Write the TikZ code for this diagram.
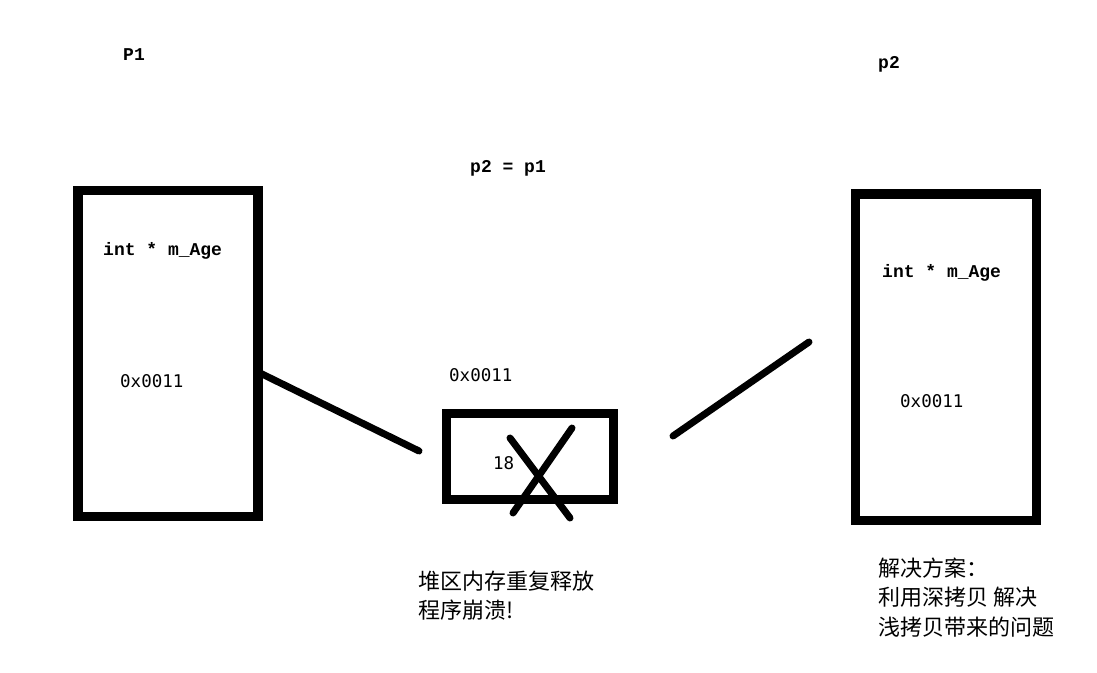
\documentclass[tikz,border=0pt]{standalone}
\usepackage{fontspec}
\newfontfamily\cjk{Noto Sans CJK SC}
\newfontfamily\monoserif{Liberation Mono}
\newfontfamily\monosans{DejaVu Sans Mono}
\begin{document}
\begin{tikzpicture}[x=1pt,y=-1pt,
  membox/.style={draw=black,line width=9.5pt,rectangle,inner sep=0pt},
  lbl/.style={inner sep=0pt,anchor=base west,font=\monoserif\bfseries\fontsize{18}{20}\selectfont},
  addr/.style={inner sep=0pt,anchor=base west,font=\monosans\fontsize{17.5}{20}\selectfont},
  note/.style={inner sep=0pt,anchor=west,align=left,font=\cjk\fontsize{22}{29.5}\selectfont},
  wire/.style={line width=7pt,line cap=round},
  cross/.style={line width=7pt,line cap=round}]
\useasboundingbox (0,0) rectangle (1097,672);
\fill[white] (0,0) rectangle (1097,672);

% memory boxes
\node[membox,minimum width=180pt,minimum height=326pt] (p1box) at (168,353.5) {};
\node[membox,minimum width=181pt,minimum height=326.5pt] (p2box) at (946,357.25) {};
\node[membox,minimum width=167pt,minimum height=86pt] (heap) at (530,456.5) {};

% labels
\node[lbl] (p1lbl) at (123,60) {P1};
\node[lbl] (p2lbl) at (878,68) {p2};
\node[lbl] (assign) at (470,172) {p2 = p1};
\node[lbl] (ageL) at (103,255) {int * m\_Age};
\node[lbl] (ageR) at (882,277) {int * m\_Age};
\node[addr] (addrL) at (120,387) {0x0011};
\node[addr] (addrR) at (900,407) {0x0011};
\node[addr] (addrM) at (449,381) {0x0011};
\node[addr] (val) at (493,469) {18};

% notes
\node[note] (crash) at (418,595.5) {堆区内存重复释放\\程序崩溃!};
\node[note] (fix) at (878,597.5) {解决方案：\\利用深拷贝 解决\\浅拷贝带来的问题};

% connectors
\coordinate (w1a) at (260,373);
\coordinate (w1b) at (419,451);
\coordinate (w2a) at (673,436);
\coordinate (w2b) at (809,342);
\draw[wire] (w1a) -- (w1b);
\draw[wire] (w2a) -- (w2b);

% cross over heap box
\coordinate (x1a) at (510,438);
\coordinate (x1b) at (570,518);
\coordinate (x2a) at (572,428);
\coordinate (x2b) at (513,513);
\draw[cross] (x1a) -- (x1b);
\draw[cross] (x2a) -- (x2b);
\end{tikzpicture}
\end{document}
